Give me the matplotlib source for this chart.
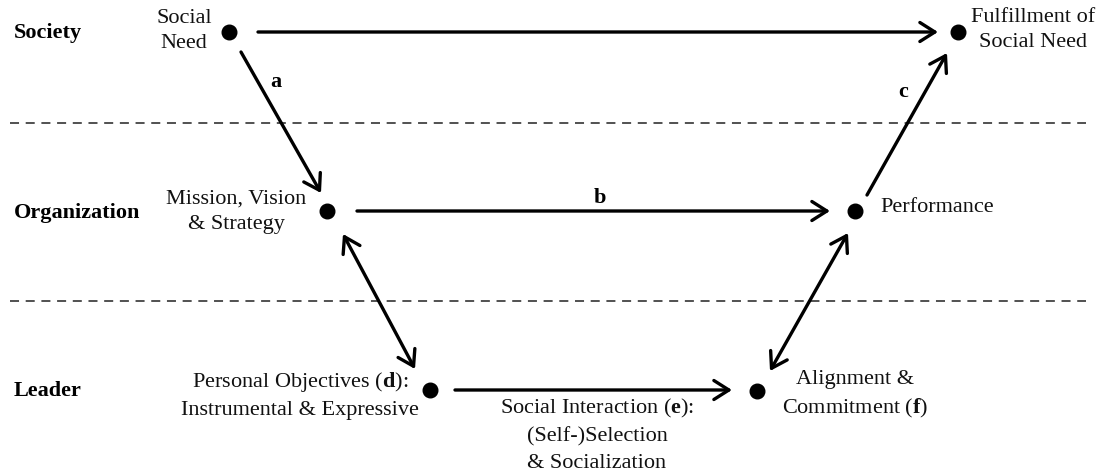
import matplotlib
matplotlib.use("Agg")
import matplotlib.pyplot as plt

plt.rcParams["font.family"] = ["Liberation Serif", "DejaVu Serif"]
plt.rcParams["lines.scale_dashes"] = False
plt.rcParams["mathtext.fontset"] = "custom"
plt.rcParams["mathtext.bf"] = "Liberation Serif:bold"
plt.rcParams["mathtext.rm"] = "Liberation Serif"

# ── Diagram content (pixel coordinates, y grows downward) ────────────────
levels   = ["Society", "Organization", "Leader"]
level_y  = [33, 213, 391]
divider_y = [123, 301]

node_names = ["social_need", "fulfillment", "mission", "performance", "personal", "alignment"]
node_x     = [229, 958, 327, 855, 430, 757]
node_y     = [32, 32, 211, 211, 390, 391]

# arrows: (x0, y0, x1, y1, both_ends)
arrows = [
    (258, 32, 938, 32, False),     # social need -> fulfillment
    (241, 52, 321, 193, False),    # a
    (867, 195, 947, 53, False),    # c
    (357, 211, 830, 211, False),   # b
    (455, 390, 732, 390, False),   # e
    (343, 234, 415, 369, True),    # mission <-> personal objectives
    (848, 233, 770, 371, True),    # performance <-> alignment
]

arrow_labels = ["a", "b", "c"]
arrow_label_x = [276, 600, 903]
arrow_label_y = [82, 198, 92]

# node captions: (text, x, y, ha)
captions = [
    ("Social\nNeed", 184, 31, "center"),
    ("Fulfillment of\nSocial Need", 1033, 30, "center"),
    ("Mission, Vision\n& Strategy", 236, 212, "center"),
    ("Performance", 880, 208, "left"),
    ("Personal Objectives ($\\mathbf{d}$):\nInstrumental & Expressive", 300, 395, "center"),
    ("Alignment &\nCommitment ($\\mathbf{f}$)", 855, 395, "center"),
    ("Social Interaction ($\\mathbf{e}$):\n(Self-)Selection\n& Socialization", 597, 435, "center"),
]

W, H = 1103, 476
fig = plt.figure(figsize=(W / 100, H / 100), dpi=100)
fig.patch.set_facecolor("white")
ax = fig.add_axes([0, 0, 1, 1])
ax.set_xlim(0, W)
ax.set_ylim(H, 0)
ax.axis("off")

# dashed level dividers
for y in divider_y:
    ax.plot([10, 1086], [y, y], color="#222222", lw=1.1, dashes=(6.5, 4.8))

# level names
for name, y in zip(levels, level_y):
    ax.text(14, y, name, fontsize=16, fontweight="bold", ha="left", va="center")

# arrows
for x0, y0, x1, y1, both in arrows:
    style = "<->" if both else "->"
    ax.annotate("", xy=(x1, y1), xytext=(x0, y0),
                arrowprops=dict(arrowstyle=f"{style},head_length=0.6,head_width=0.38",
                                lw=2.4, color="black", shrinkA=0, shrinkB=0,
                                mutation_scale=18))

# nodes
ax.plot(node_x, node_y, "o", color="black", markersize=10.5, linestyle="none")

# arrow letters
for lab, x, y in zip(arrow_labels, arrow_label_x, arrow_label_y):
    ax.text(x, y, lab, fontsize=16, fontweight="bold", ha="center", va="center")

# captions
for txt, x, y, ha in captions:
    ax.text(x, y, txt, fontsize=16, ha=ha, va="center", linespacing=1.48,
            multialignment="center", color="#111111")

plt.savefig("out.png", dpi=100)
